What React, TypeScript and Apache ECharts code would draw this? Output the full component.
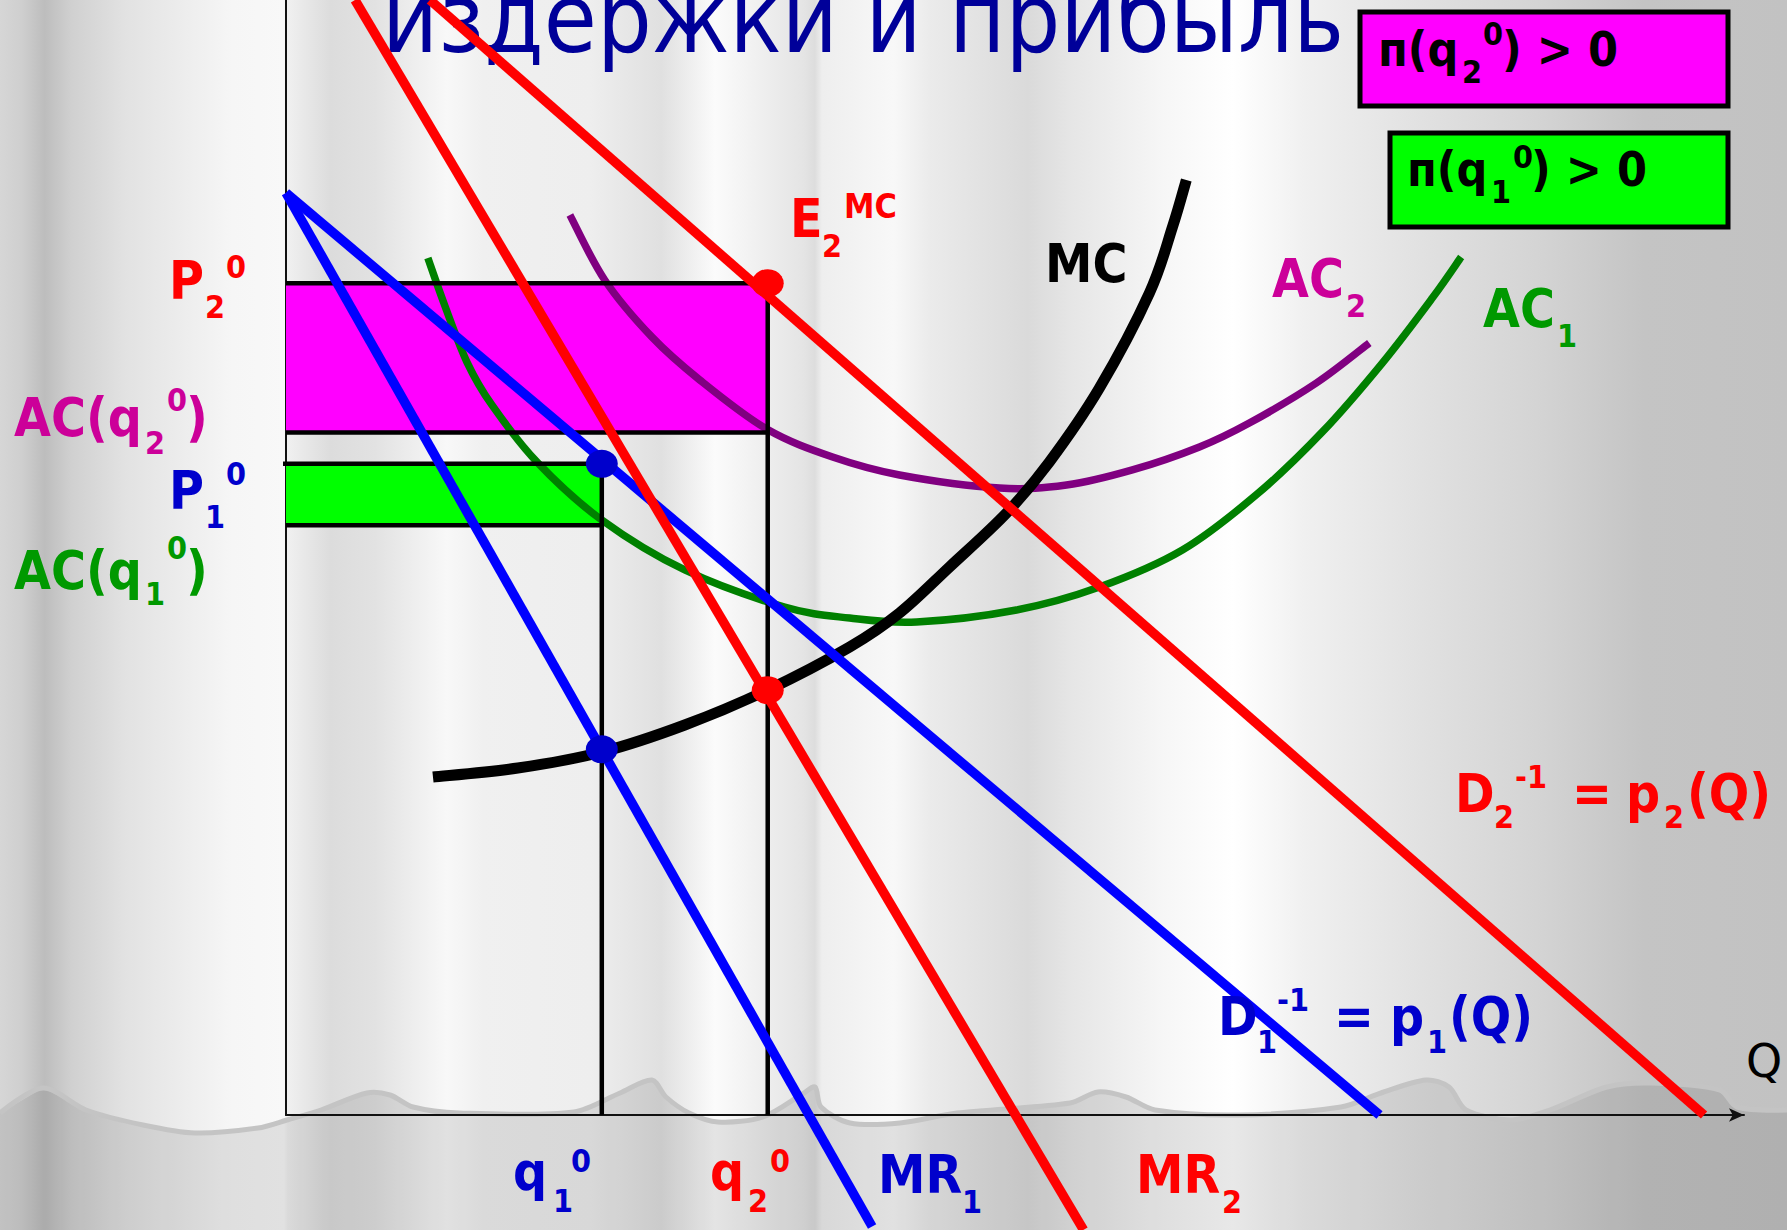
import React, { useEffect, useRef } from "react";
import * as echarts from "echarts";

// ---- Data (axis units: Q 0..100, P 0..100) ----
const quantities = [21.66, 33.04]; // q1⁰, q2⁰
const prices = [58.4, 74.6]; // P1⁰, P2⁰
const avgCosts = [52.9, 61.2]; // AC(q1⁰), AC(q2⁰)
const marginalCosts = [32.8, 38.1]; // MC at q1⁰, q2⁰

const demand1 = [[0, 82.7], [75.0, 0]];
const marginalRevenue1 = [[0, 82.7], [40.2, -10.0]];
const demand2 = [[9.87, 100], [97.26, 0]];
const marginalRevenue2 = [[4.73, 100], [54.7, -10.3]];

const mcCurve = [
  [10.08, 30.31], [15.9, 31.12], [21.66, 32.56], [27.35, 34.98], [33.04, 38.12],
  [38.66, 41.97], [42.08, 45.02], [45.51, 49.15], [49.42, 53.99], [52.36, 58.57],
  [55.79, 65.2], [59.22, 73.72], [60.8, 79.64], [61.75, 83.86],
];
const ac1Curve = [
  [9.73, 76.86], [10.9, 72.56], [12.41, 67.53], [14.12, 63.68], [17.27, 58.48],
  [21.66, 53.36], [27.35, 48.88], [34.2, 45.56], [38.66, 44.57], [43.25, 44.22],
  [50.1, 45.29], [55.79, 47.35], [61.48, 50.67], [66.62, 55.7], [71.08, 61.26],
  [75.19, 67.44], [78.62, 73.27], [80.6, 76.95],
];
const ac2Curve = [
  [19.47, 80.72], [21.86, 74.89], [25.09, 69.78], [28.38, 65.92], [32.97, 61.52],
  [37.49, 59.01], [42.08, 57.4], [48.94, 56.23], [53.53, 56.5], [58.05, 57.85],
  [62.65, 59.91], [66.07, 62.06], [70.67, 65.65], [74.3, 69.24],
];

// ---- Layout / decoration ----
const W = 1787;
const H = 1230;
const FONT = "'DejaVu Sans', sans-serif";
const RED = "#FF0000";
const BLUE = "#0000CC";
const MAG = "#CC0099";
const GRN = "#009900";
const SX = 0.9; // horizontal squeeze of the bold label font

type Part = [string, number, number, number]; // text, left x, baseline y, font size
const labelGroups: { color: string; parts: Part[] }[] = [
  { color: RED, parts: [["P", 169, 299, 53], ["2", 205, 318, 32], ["0", 226, 278, 32]] },
  { color: MAG, parts: [["AC(q", 14, 436, 53], ["2", 145, 454, 32], ["0", 167, 411, 32], [")", 186, 436, 53]] },
  { color: BLUE, parts: [["P", 169, 509, 53], ["1", 205, 528, 32], ["0", 226, 485, 32]] },
  { color: GRN, parts: [["AC(q", 14, 589, 53], ["1", 145, 605, 32], ["0", 167, 559, 32], [")", 186, 589, 53]] },
  { color: RED, parts: [["E", 790, 237, 53], ["2", 822, 257, 32], ["MC", 844, 218, 34]] },
  { color: "#000000", parts: [["MC", 1045, 282, 53]] },
  { color: MAG, parts: [["AC", 1272, 297, 53], ["2", 1346, 317, 32]] },
  { color: GRN, parts: [["AC", 1483, 327, 53], ["1", 1557, 347, 32]] },
  { color: RED, parts: [["D", 1455, 812, 53], ["2", 1494, 828, 32], ["-1", 1515, 788, 32], ["=", 1572, 812, 53], ["p", 1626, 812, 53], ["2", 1664, 828, 32], ["(Q)", 1687, 812, 53]] },
  { color: BLUE, parts: [["D", 1218, 1035, 53], ["1", 1257, 1053, 32], ["-1", 1277, 1011, 32], ["=", 1334, 1035, 53], ["p", 1390, 1035, 53], ["1", 1427, 1053, 32], ["(Q)", 1449, 1035, 53]] },
  { color: BLUE, parts: [["q", 513, 1190, 53], ["1", 553, 1212, 32], ["0", 571, 1172, 32]] },
  { color: RED, parts: [["q", 710, 1190, 53], ["2", 748, 1212, 32], ["0", 770, 1172, 32]] },
  { color: BLUE, parts: [["MR", 878, 1193, 53], ["1", 962, 1213, 32]] },
  { color: RED, parts: [["MR", 1136, 1193, 53], ["2", 1222, 1213, 32]] },
  { color: "#000000", parts: [["п(q", 1378, 66, 48], ["2", 1462, 83, 32], ["0", 1483, 45, 32], [") > 0", 1502, 66, 48]] },
  { color: "#000000", parts: [["п(q", 1407, 186, 48], ["1", 1491, 203, 32], ["0", 1513, 168, 32], [") > 0", 1531, 186, 48]] },
];

const wave = [
  [0, 1113], [43, 1088], [86, 1110], [143, 1125], [195, 1133], [258, 1128], [287, 1120],
  [321, 1110], [367, 1093], [390, 1095], [413, 1107], [459, 1113], [574, 1112], [620, 1093],
  [652, 1080], [666, 1097], [689, 1113], [718, 1122], [763, 1117], [804, 1093], [815, 1087],
  [821, 1107], [850, 1123], [900, 1123], [957, 1113], [1070, 1103], [1098, 1092], [1126, 1097],
  [1155, 1110], [1239, 1115], [1341, 1107], [1381, 1093], [1426, 1080], [1449, 1087],
  [1466, 1110], [1511, 1120], [1550, 1110], [1607, 1087], [1652, 1083], [1720, 1090],
  [1737, 1107], [1787, 1110],
];

const curtainStops: [number, string][] = [
  [0, "#d6d6d6"], [0.012, "#cfcfcf"], [0.025, "#bdbdbd"], [0.04, "#d0d0d0"], [0.07, "#e2e2e2"],
  [0.13, "#f6f6f6"], [0.159, "#f8f8f8"], [0.161, "#f0f0f0"], [0.185, "#dcdcdc"], [0.21, "#e2e2e2"],
  [0.25, "#f8f8f8"], [0.27, "#f0f0f0"], [0.33, "#eeeeee"], [0.37, "#e0e0e0"], [0.4, "#fbfbfb"],
  [0.45, "#e4e4e4"], [0.456, "#dddddd"], [0.46, "#eeeeee"], [0.5, "#f8f8f8"], [0.52, "#ebebeb"],
  [0.575, "#dadada"], [0.6, "#e6e6e6"], [0.65, "#f6f6f6"], [0.69, "#ffffff"], [0.73, "#f0f0f0"],
  [0.8, "#e0e0e0"], [0.86, "#d4d4d4"], [0.92, "#c4c4c4"], [1, "#c2c2c2"],
];

function textEl(text: string, x: number, base: number, fs: number, color: string, weight = "bold", sx = SX) {
  return {
    type: "text",
    x,
    y: base - 0.346 * fs,
    scaleX: sx,
    z: 100,
    style: {
      text,
      fill: color,
      fontSize: fs,
      fontFamily: FONT,
      fontWeight: weight,
      align: "left",
      verticalAlign: "middle",
    },
  };
}

function lineSeries(name: string, data: number[][], color: string, width: number) {
  return {
    name,
    type: "line",
    data,
    symbol: "none",
    clip: false,
    silent: true,
    lineStyle: { color, width, cap: "butt", join: "miter" },
  };
}

// Smooth curve through the data points (Catmull-Rom), positioned by the axes via api.coord
function curveSeries(name: string, data: number[][], color: string, width: number) {
  return {
    name,
    type: "custom",
    silent: true,
    clip: false,
    data,
    renderItem: (params: any, api: any) => {
      if (params.dataIndex !== 0) return null;
      const p = data.map((d) => api.coord(d));
      let d = `M${p[0][0]},${p[0][1]}`;
      for (let i = 0; i < p.length - 1; i++) {
        const p0 = p[i - 1] || p[i];
        const p1 = p[i];
        const p2 = p[i + 1];
        const p3 = p[i + 2] || p[i + 1];
        const c1x = p1[0] + (p2[0] - p0[0]) / 6;
        const c1y = p1[1] + (p2[1] - p0[1]) / 6;
        const c2x = p2[0] - (p3[0] - p1[0]) / 6;
        const c2y = p2[1] - (p3[1] - p1[1]) / 6;
        d += ` C${c1x},${c1y} ${c2x},${c2y} ${p2[0]},${p2[1]}`;
      }
      return {
        type: "path",
        shape: { pathData: d },
        style: { stroke: color, lineWidth: width, fill: "none", lineCap: "butt" },
      };
    },
  };
}

export default function App() {
  const ref = useRef<HTMLDivElement>(null);

  useEffect(() => {
    if (!ref.current) return;
    const chart = echarts.init(ref.current, null, { renderer: "svg" });

    const [q1, q2] = quantities;
    const [p1, p2] = prices;
    const [ac1, ac2] = avgCosts;

    const graphics: any[] = [
      {
        type: "rect",
        z: -20,
        shape: { x: 0, y: 0, width: W, height: H },
        style: {
          fill: new echarts.graphic.LinearGradient(
            0, 0, 1, 0,
            curtainStops.map(([offset, color]) => ({ offset, color }))
          ),
        },
      },
      {
        type: "polygon",
        z: -15,
        shape: { points: [...wave, [W, H], [0, H]] },
        style: { fill: "rgba(0,0,0,0.09)" },
      },
      {
        type: "polyline",
        z: -14,
        shape: { points: wave, smooth: 0.3 },
        style: { stroke: "#c4c4c4", lineWidth: 5, fill: "none" },
      },
      {
        type: "text",
        x: 382,
        y: 52 - 0.346 * 96,
        scaleX: 0.9,
        z: 1,
        style: {
          text: "издержки и прибыль",
          fill: "#000099",
          fontSize: 96,
          fontFamily: FONT,
          fontWeight: "normal",
          align: "left",
          verticalAlign: "middle",
        },
      },
      {
        type: "rect",
        z: 90,
        shape: { x: 1360, y: 12, width: 368, height: 94 },
        style: { fill: "#FF00FF", stroke: "#000", lineWidth: 5 },
      },
      {
        type: "rect",
        z: 90,
        shape: { x: 1390, y: 133, width: 338, height: 94 },
        style: { fill: "#00FF00", stroke: "#000", lineWidth: 5 },
      },
      textEl("Q", 1746, 1077, 46, "#000000", "normal", 1),
    ];
    labelGroups.forEach((g) =>
      g.parts.forEach(([s, x, b, fs]) => graphics.push(textEl(s, x, b, fs, g.color)))
    );

    const rectColors = ["#FF00FF", "#00FF00"];

    chart.setOption({
      animation: false,
      grid: { left: 286, right: 43, top: 0, bottom: 115 },
      xAxis: {
        type: "value",
        min: 0,
        max: 100,
        axisLine: {
          show: true,
          onZero: false,
          symbol: ["none", "arrow"],
          symbolSize: [10, 15],
          lineStyle: { color: "#111", width: 2 },
        },
        axisTick: { show: false },
        axisLabel: { show: false },
        splitLine: { show: false },
      },
      yAxis: {
        type: "value",
        min: 0,
        max: 100,
        axisLine: { show: true, onZero: false, lineStyle: { color: "#111", width: 2 } },
        axisTick: { show: false },
        axisLabel: { show: false },
        splitLine: { show: false },
      },
      graphic: graphics,
      series: [
        {
          name: "profit areas",
          type: "custom",
          silent: true,
          data: [
            [0, p2, q2, ac2],
            [0, p1, q1, ac1],
          ],
          renderItem: (params: any, api: any) => {
            const a = api.coord([api.value(0), api.value(1)]);
            const b = api.coord([api.value(2), api.value(3)]);
            return {
              type: "rect",
              shape: { x: a[0], y: a[1], width: b[0] - a[0], height: b[1] - a[1] },
              style: { fill: rectColors[params.dataIndex] },
            };
          },
        },
        lineSeries("P2 guide", [[0, p2], [q2, p2], [q2, 0]], "#000", 4.5),
        lineSeries("AC(q2) guide", [[0, ac2], [q2, ac2]], "#000", 4.5),
        lineSeries("P1 guide", [[-1.1, p1], [q1, p1], [q1, 0]], "#000", 4.5),
        lineSeries("AC(q1) guide", [[0, ac1], [q1, ac1]], "#000", 4.5),
        curveSeries("AC1", ac1Curve, "#008000", 7.5),
        curveSeries("AC2", ac2Curve, "#800080", 7.5),
        curveSeries("MC", mcCurve, "#000000", 11),
        lineSeries("D1", demand1, "#0000FF", 9.5),
        lineSeries("MR1", marginalRevenue1, "#0000FF", 9.5),
        lineSeries("D2", demand2, "#FF0000", 9.5),
        lineSeries("MR2", marginalRevenue2, "#FF0000", 9.5),
        {
          name: "firm 1 points",
          type: "scatter",
          silent: true,
          symbol: "circle",
          symbolSize: [32, 28],
          itemStyle: { color: BLUE, opacity: 1 },
          data: [[q1, p1], [q1, marginalCosts[0]]],
          z: 5,
        },
        {
          name: "firm 2 points",
          type: "scatter",
          silent: true,
          symbol: "circle",
          symbolSize: [32, 28],
          itemStyle: { color: RED, opacity: 1 },
          data: [[q2, p2], [q2, marginalCosts[1]]],
          z: 5,
        },
      ],
    });

    return () => chart.dispose();
  }, []);

  return (
    <div
      ref={ref}
      style={{ position: "absolute", left: 0, top: 0, width: W, height: H, overflow: "hidden" }}
    />
  );
}
